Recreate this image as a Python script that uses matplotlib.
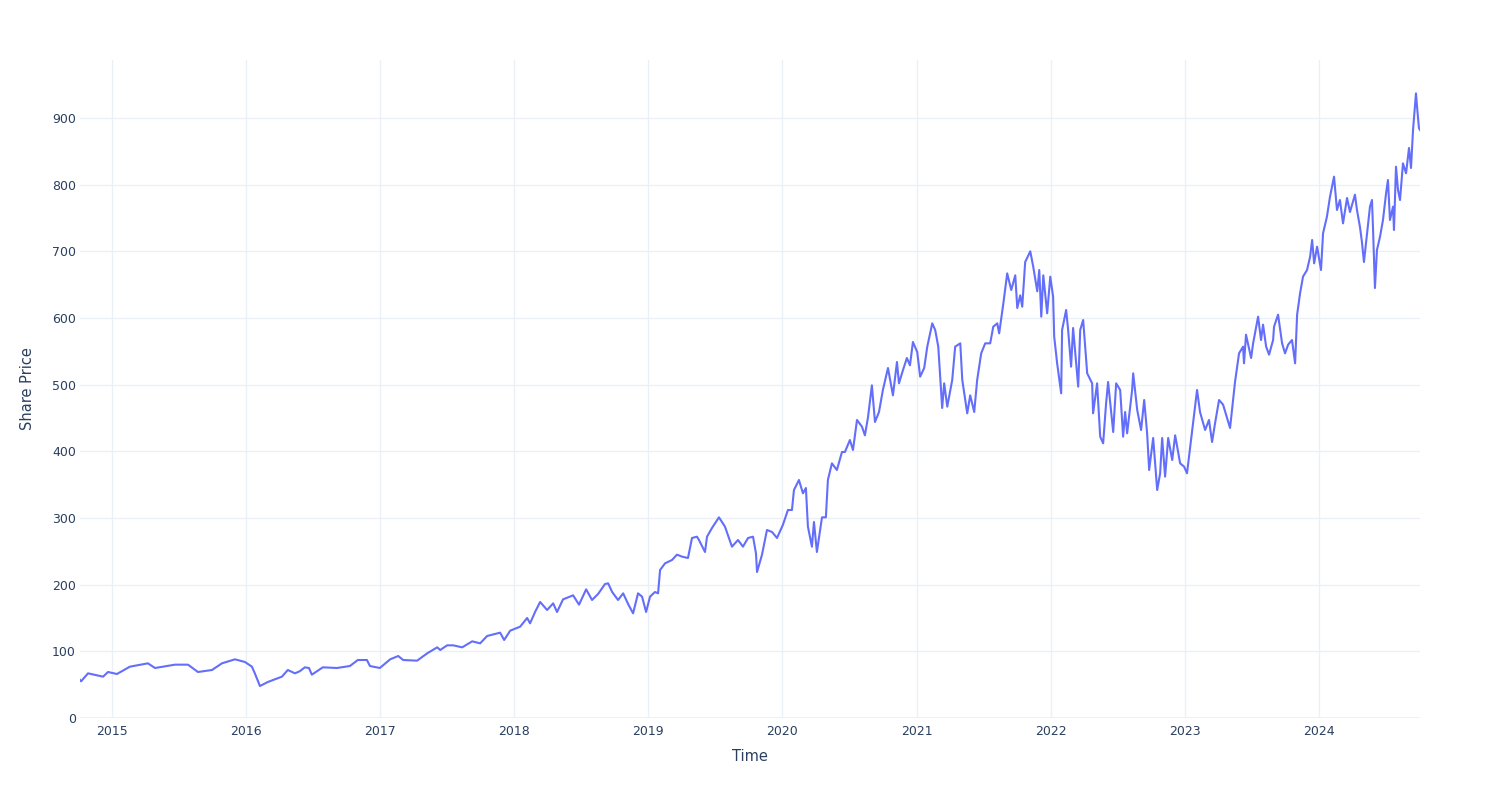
import pandas as pd
import matplotlib
matplotlib.use("Agg")
import matplotlib.pyplot as plt
import matplotlib.dates as mdates

# share price readings (time as decimal year)
decimal_years = [
    2014.761, 2014.769, 2014.821, 2014.933, 2014.970, 2015.037, 2015.134, 2015.268, 2015.321, 2015.470,
    2015.567, 2015.641, 2015.746, 2015.820, 2015.917, 2015.992, 2016.044, 2016.066, 2016.104, 2016.163,
    2016.268, 2016.312, 2016.365, 2016.400, 2016.439, 2016.470, 2016.491, 2016.573, 2016.678, 2016.775,
    2016.834, 2016.902, 2016.924, 2016.998, 2017.073, 2017.133, 2017.170, 2017.274, 2017.349, 2017.424,
    2017.446, 2017.498, 2017.543, 2017.610, 2017.685, 2017.744, 2017.796, 2017.893, 2017.923, 2017.968,
    2018.043, 2018.095, 2018.117, 2018.154, 2018.192, 2018.244, 2018.289, 2018.318, 2018.363, 2018.438,
    2018.482, 2018.535, 2018.579, 2018.624, 2018.676, 2018.699, 2018.729, 2018.773, 2018.811, 2018.848,
    2018.885, 2018.922, 2018.952, 2018.982, 2019.012, 2019.049, 2019.072, 2019.087, 2019.124, 2019.176,
    2019.213, 2019.251, 2019.295, 2019.325, 2019.362, 2019.377, 2019.422, 2019.437, 2019.474, 2019.526,
    2019.571, 2019.623, 2019.668, 2019.705, 2019.743, 2019.780, 2019.802, 2019.810, 2019.847, 2019.884,
    2019.922, 2019.959, 2020.004, 2020.041, 2020.071, 2020.086, 2020.123, 2020.153, 2020.175, 2020.190,
    2020.220, 2020.235, 2020.257, 2020.295, 2020.324, 2020.339, 2020.369, 2020.406, 2020.444, 2020.466,
    2020.503, 2020.526, 2020.556, 2020.593, 2020.615, 2020.638, 2020.667, 2020.690, 2020.720, 2020.749,
    2020.787, 2020.824, 2020.854, 2020.869, 2020.899, 2020.928, 2020.951, 2020.973, 2021.003, 2021.025,
    2021.055, 2021.078, 2021.115, 2021.137, 2021.160, 2021.189, 2021.204, 2021.227, 2021.264, 2021.286,
    2021.324, 2021.339, 2021.376, 2021.398, 2021.428, 2021.450, 2021.480, 2021.510, 2021.547, 2021.570,
    2021.600, 2021.614, 2021.644, 2021.674, 2021.704, 2021.734, 2021.749, 2021.771, 2021.786, 2021.808,
    2021.846, 2021.868, 2021.898, 2021.913, 2021.928, 2021.943, 2021.972, 2021.995, 2022.017, 2022.025,
    2022.047, 2022.077, 2022.084, 2022.114, 2022.129, 2022.151, 2022.166, 2022.204, 2022.219, 2022.241,
    2022.271, 2022.308, 2022.315, 2022.345, 2022.368, 2022.390, 2022.412, 2022.427, 2022.465, 2022.487,
    2022.517, 2022.539, 2022.554, 2022.569, 2022.606, 2022.614, 2022.644, 2022.673, 2022.696, 2022.718,
    2022.733, 2022.763, 2022.793, 2022.815, 2022.830, 2022.852, 2022.875, 2022.905, 2022.927, 2022.964,
    2022.994, 2023.016, 2023.046, 2023.061, 2023.091, 2023.113, 2023.151, 2023.180, 2023.203, 2023.225,
    2023.255, 2023.285, 2023.337, 2023.374, 2023.404, 2023.434, 2023.441, 2023.456, 2023.494, 2023.509,
    2023.546, 2023.568, 2023.583, 2023.606, 2023.628, 2023.658, 2023.665, 2023.695, 2023.725, 2023.747,
    2023.770, 2023.799, 2023.822, 2023.837, 2023.859, 2023.881, 2023.911, 2023.934, 2023.949, 2023.964,
    2023.986, 2024.016, 2024.031, 2024.060, 2024.083, 2024.113, 2024.135, 2024.157, 2024.180, 2024.210,
    2024.232, 2024.269, 2024.284, 2024.306, 2024.321, 2024.336, 2024.359, 2024.381, 2024.396, 2024.404,
    2024.418, 2024.433, 2024.456, 2024.478, 2024.501, 2024.515, 2024.530, 2024.553, 2024.560, 2024.575,
    2024.590, 2024.605, 2024.627, 2024.650, 2024.672, 2024.687, 2024.702, 2024.724, 2024.732, 2024.746,
    2024.754,
]

share_price = [
    57, 55, 67, 62, 69, 66, 77, 82, 75, 80,
    80, 69, 72, 82, 88, 84, 77, 67, 48, 54,
    62, 72, 67, 70, 76, 75, 65, 76, 75, 78,
    87, 87, 78, 75, 88, 93, 87, 86, 97, 106,
    102, 109, 109, 106, 115, 112, 123, 128, 117, 131,
    137, 150, 142, 159, 174, 162, 172, 159, 178, 184,
    170, 193, 177, 186, 201, 202, 189, 177, 187, 171,
    157, 187, 182, 159, 182, 189, 187, 222, 232, 237,
    245, 242, 240, 270, 272, 267, 249, 272, 285, 301,
    287, 257, 267, 257, 270, 272, 247, 219, 245, 282,
    279, 270, 290, 312, 312, 342, 357, 337, 345, 287,
    257, 294, 249, 301, 301, 357, 382, 372, 399, 399,
    417, 402, 447, 437, 424, 451, 499, 444, 459, 492,
    525, 484, 534, 502, 522, 540, 529, 564, 549, 512,
    525, 557, 592, 582, 557, 465, 502, 467, 507, 557,
    562, 507, 457, 484, 459, 507, 547, 562, 562, 587,
    592, 577, 620, 667, 642, 664, 615, 634, 617, 684,
    700, 677, 640, 672, 602, 664, 607, 662, 632, 572,
    532, 487, 582, 612, 582, 527, 585, 497, 582, 597,
    517, 502, 457, 502, 422, 412, 472, 504, 429, 502,
    492, 422, 459, 427, 492, 517, 462, 432, 477, 427,
    372, 420, 342, 367, 420, 362, 420, 387, 424, 382,
    377, 367, 417, 442, 492, 459, 432, 447, 414, 442,
    477, 470, 435, 504, 547, 557, 532, 575, 540, 562,
    602, 567, 590, 557, 545, 567, 587, 605, 562, 547,
    560, 567, 532, 605, 637, 662, 672, 692, 717, 682,
    707, 672, 727, 752, 782, 812, 762, 777, 742, 780,
    759, 785, 762, 737, 714, 684, 727, 767, 777, 732,
    645, 702, 722, 747, 787, 807, 747, 767, 732, 827,
    792, 777, 832, 817, 855, 825, 882, 937, 917, 885,
    882,
]

TEXT = "#2a3f5f"
GRID = "#EBF0F8"
LINE = "#636EFA"


def to_dates(years):
    out = []
    for y in years:
        base = int(y)
        start = pd.Timestamp(year=base, month=1, day=1)
        out.append(start + pd.to_timedelta((y - base) * 365.25, unit="D"))
    return out


dates = to_dates(decimal_years)

fig = plt.figure(figsize=(15, 8), dpi=100)
ax = fig.add_axes([80 / 1500, 1 - 718 / 800, 1340 / 1500, 658 / 800])

ax.plot(dates, share_price, color=LINE, lw=1.5, solid_joinstyle="round")

ax.set_xlim(dates[0], dates[-1])
ax.set_ylim(0, 987)
ax.set_yticks(range(0, 1000, 100))
ax.xaxis.set_major_locator(mdates.YearLocator())
ax.xaxis.set_major_formatter(mdates.DateFormatter("%Y"))

ax.grid(True, color=GRID, lw=1)
ax.set_axisbelow(True)
ax.axhline(0, color=GRID, lw=2, zorder=0.5)
for side in ax.spines.values():
    side.set_visible(False)

ax.tick_params(axis="both", length=0, labelsize=9, labelcolor=TEXT)
ax.tick_params(axis="y", pad=3)
ax.tick_params(axis="x", pad=5)

ax.set_xlabel("Time", fontsize=10.5, color=TEXT, labelpad=8)
ax.set_ylabel("Share Price", fontsize=10.5, color=TEXT, labelpad=12)

fig.savefig("out.png", dpi=100, facecolor="white")
plt.close()
